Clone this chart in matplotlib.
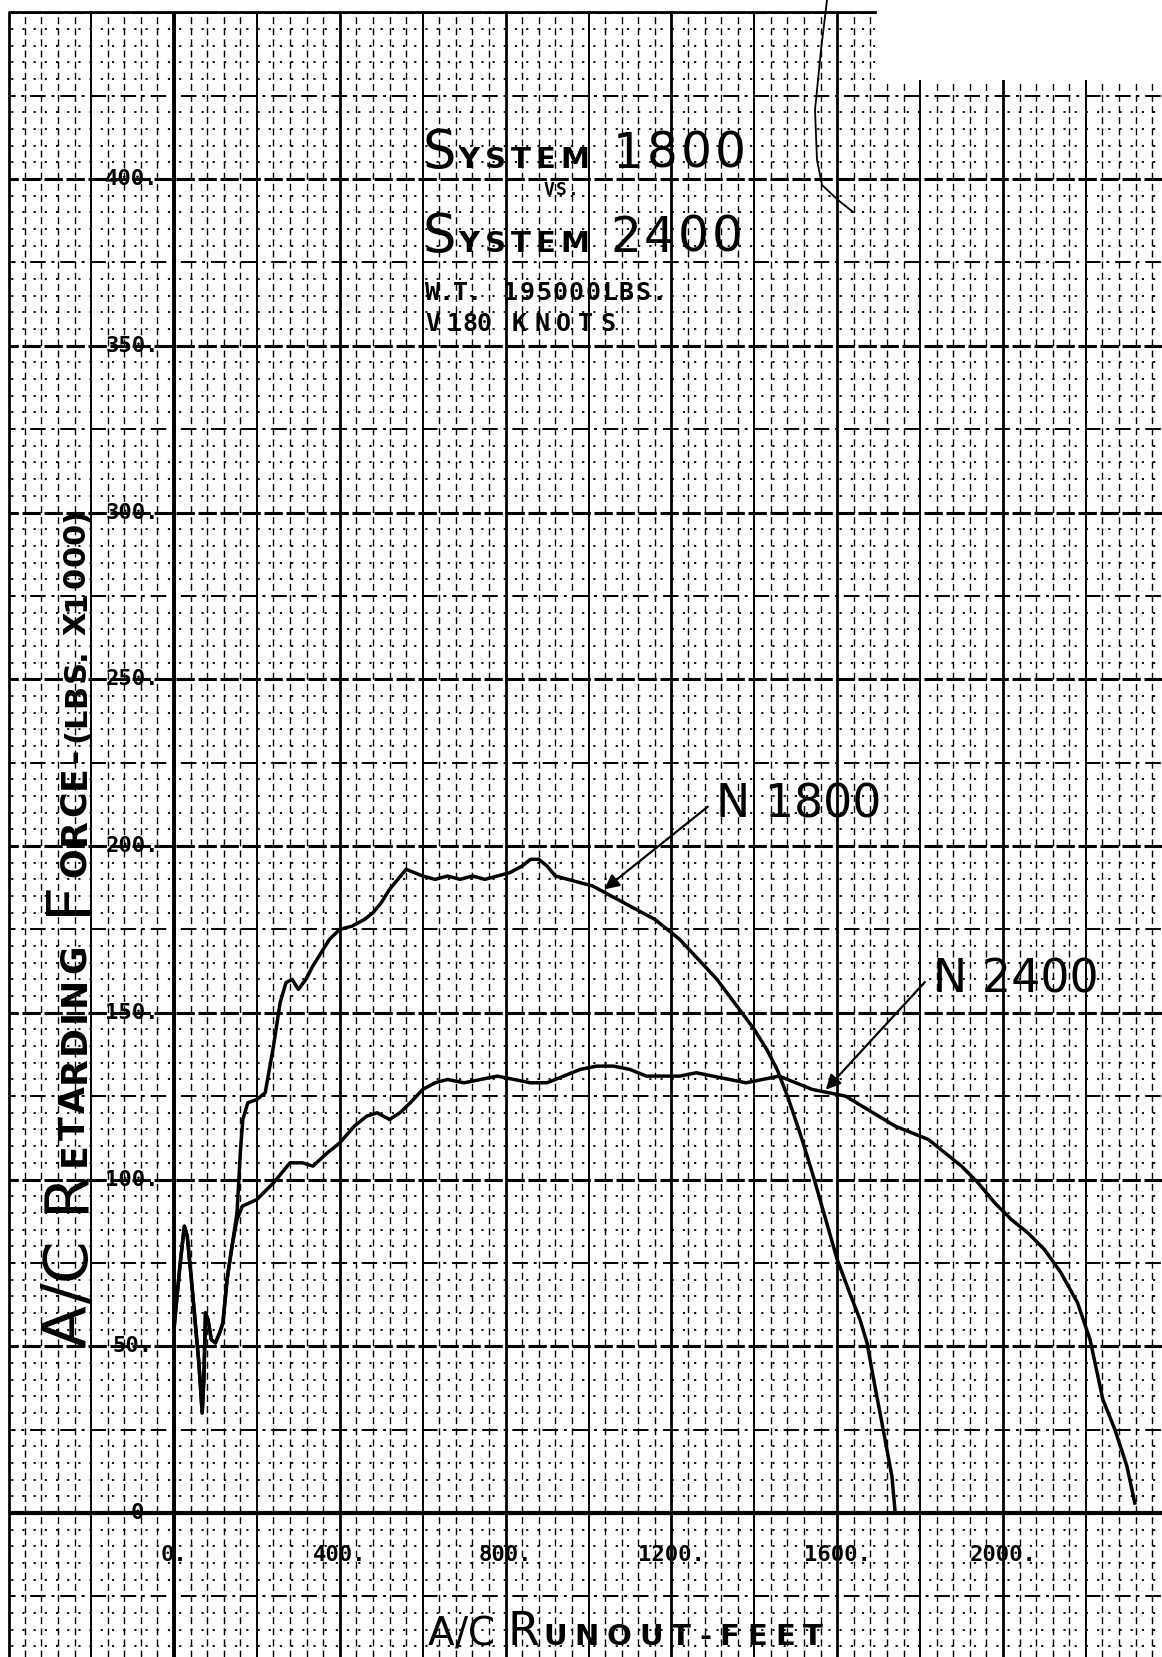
#!/usr/bin/env python3
"""
Arresting gear comparison - System 1800 vs System 2400.

Retarding force against aircraft runout, drawn like the old
hand-lettered graph paper sheet.
"""

import numpy as np
import matplotlib.pyplot as plt
from matplotlib.transforms import IdentityTransform
from matplotlib.patches import Rectangle
from matplotlib.lines import Line2D

# --- data (runout in ft, force in lbs x 1000) ---
runout_1800 = [0, 5, 15, 25, 32, 42, 52, 60, 68, 72, 76, 82, 90, 100, 110, 118,
               128, 140, 152, 160, 166, 178, 200, 220, 240, 256, 270, 285, 300,
               318, 335, 355, 375, 400, 430, 460, 480, 500, 520, 540, 560, 580,
               600, 630, 660, 690, 720, 750, 780, 810, 840, 860, 880, 900, 920,
               950, 980, 1010, 1040, 1070, 1100, 1130, 1160, 1190, 1220, 1250,
               1280, 1310, 1340, 1370, 1400, 1430, 1455, 1480, 1510, 1540, 1570,
               1600, 1630, 1655, 1672, 1691, 1711, 1732, 1740]
force_1800 = [55, 62, 75, 86, 83, 70, 56, 45, 30, 40, 60, 58, 52, 51, 54, 57,
              70, 80, 90, 108, 118, 123, 124, 126, 140, 153, 159, 160, 157,
              160, 164, 168, 172, 175, 176, 178, 180, 183, 187, 190, 193, 192,
              191, 190, 191, 190, 191, 190, 191, 192, 194, 196, 196, 194, 191,
              190, 189, 188, 186, 184, 182, 180, 178, 175, 172, 168,
              164, 160, 155, 150, 145, 139, 133, 125, 114, 102, 89,
              76, 66, 58, 51, 38, 25, 11, 0]

runout_2400 = [0, 5, 15, 25, 32, 42, 52, 60, 68, 72, 76, 82, 90, 100, 110, 118,
               128, 140, 152, 165, 200, 240, 280, 310, 335, 370, 400, 435, 465,
               490, 520, 545, 570, 600, 630, 660, 700, 740, 780, 820, 860, 900,
               940, 980, 1020, 1060, 1100, 1140, 1180, 1220, 1260, 1300, 1340,
               1380, 1420, 1460, 1500, 1540, 1580, 1620, 1660, 1700, 1740, 1780,
               1820, 1860, 1900, 1940, 1980, 2020, 2060, 2100, 2140, 2180, 2210,
               2241, 2270, 2299, 2318]
force_2400 = [55, 62, 75, 86, 83, 70, 56, 45, 30, 40, 60, 58, 52, 51, 54, 57,
              70, 80, 88, 92, 94, 99, 105, 105, 104, 108, 111, 116, 119,
              120, 118, 120, 123, 127, 129, 130, 129, 130, 131, 130, 129, 129,
              131, 133, 134, 134, 133, 131, 131, 131, 132, 131, 130,
              129, 130, 131, 129, 127, 126, 125, 122, 119, 116, 114,
              112, 108, 104, 99, 93, 88, 84, 79, 72, 63, 52,
              34, 25, 14, 3]

x_ticks = [0, 400, 800, 1200, 1600, 2000]
y_ticks = [0, 50, 100, 150, 200, 250, 300, 350, 400]

# --- sheet geometry (pixels) ---
W, H = 1162, 1657
X0, SX = 174, 0.4145     # pixel of 0 ft, pixels per ft
Y0, SY = 1513, 3.335     # pixel of 0 lbs, pixels per 1000 lbs

fig = plt.figure(figsize=(W / 100, H / 100), dpi=100)
ax = fig.add_axes([0, 0, 1, 1])
ax.set_xlim(-X0 / SX, (W - X0) / SX)
ax.set_ylim((Y0 - H) / SY, Y0 / SY)
ax.axis('off')
renderer = fig.canvas.get_renderer()

MONO = 'DejaVu Sans Mono'


def letter(px, py, pieces, rot=0, family='DejaVu Sans'):
    """Hand lettering: place chars one by one (px, py from top-left).

    pieces: (text, size, track, weight)
    """
    x, y = px, H - py
    for text, size, track, weight in pieces:
        for ch in text:
            if ch == ' ':
                adv = size * 0.35 * 100 / 72
            else:
                t = ax.text(x, y, ch, transform=IdentityTransform(),
                            fontsize=size, family=family, weight=weight,
                            rotation=rot, rotation_mode='anchor',
                            ha='left', va='baseline', zorder=6)
                bb = t.get_window_extent(renderer)
                adv = bb.width if rot == 0 else bb.height
            adv += track
            if rot == 0:
                x += adv
            else:
                y += adv


# --- graph paper ---
for v in np.arange(-400, 2400, 40):
    if v % 400 == 0:
        ax.axvline(v, color='k', lw=2.0, zorder=1)
    elif v % 200 == 0:
        ax.axvline(v, color='k', lw=1.4, zorder=1)
    else:
        ax.axvline(v, color='k', lw=1.0, ls=(0, (5, 3)), zorder=1)

for v in np.arange(-40, 455, 5):
    if v % 50 == 0:
        ax.axhline(v, color='k', lw=2.2, ls=(0, (6, 1.2)), zorder=1)
    elif v % 25 == 0:
        ax.axhline(v, color='k', lw=1.4, ls=(0, (8, 3, 1.5, 3)), zorder=1)
    else:
        ax.axhline(v, color='k', lw=1.3, ls=(0, (1.2, 5)), zorder=1)

ax.axvline(0, color='k', lw=2.8, zorder=2)
ax.axhline(0, color='k', lw=3.0, zorder=2)

# torn edges of the sheet
for r in [(0, 0, 9, H), (0, H - 12, W, 12), (875, H - 80, W - 875, 80)]:
    ax.add_patch(Rectangle(r[:2], r[2], r[3], transform=IdentityTransform(),
                           facecolor='white', edgecolor='none', zorder=3))
ax.add_line(Line2D([9, 9, 875], [0, H - 12, H - 12], transform=IdentityTransform(),
                   color='k', lw=2.0, zorder=4))

# stray pen stroke at the top
stroke_x = [827, 821, 815, 817, 822, 838, 853]
stroke_y = [0, 50, 110, 160, 185, 200, 212]
ax.add_line(Line2D(stroke_x, [H - s for s in stroke_y], transform=IdentityTransform(),
                   color='k', lw=1.3, zorder=4))

# --- curves ---
ax.plot(runout_1800, force_1800, color='k', lw=2.5, zorder=5)
ax.plot(runout_2400, force_2400, color='k', lw=2.5, zorder=5)

# --- tick labels ---
for v in y_ticks:
    ax.text(-89 if v == 0 else -101, v, f'{v}' if v == 0 else f'{v}.',
            ha='center', va='center', fontsize=16, family=MONO,
            weight='bold', zorder=6)
for v in x_ticks:
    ax.text(v, -12.6, f'{v}.', ha='center', va='center', fontsize=16,
            family=MONO, weight='bold', zorder=6)

# --- titles ---
letter(423, 168, [('S', 38, 2, 'normal'), ('YSTEM', 21, 5, 'bold')])
letter(613, 168, [('1800', 35, 3, 'normal')])
letter(544, 195, [('VS.', 13, 1, 'bold')], family=MONO)
letter(423, 252, [('S', 38, 2, 'normal'), ('YSTEM', 21, 5, 'bold')])
letter(610, 252, [('2400', 35, 3, 'normal')])
letter(425, 300, [('W.T.', 18, -1, 'bold')], family=MONO)
letter(503, 300, [('195000LBS.', 18, 1.5, 'bold')], family=MONO)
letter(425, 331, [('V', 18, 0, 'bold')], family=MONO)
letter(447, 331, [('180', 18, 0, 'bold')], family=MONO)
letter(512, 331, [('KNOTS', 18, 7, 'bold')], family=MONO)

# axis titles
letter(85, 1347, [('A/C', 44, 2, 'normal')], rot=90)
letter(85, 1212, [('R', 44, 3, 'normal'), ('ETARDING', 25, 3, 'bold')], rot=90)
letter(85, 915, [('F', 44, 3, 'normal'), ('ORCE-', 25, 2, 'bold')], rot=90)
letter(85, 742, [('(LBS. X1000)', 22, 1, 'bold')], rot=90)

letter(428, 1645, [('A/C', 28, 0, 'normal')])
letter(508, 1645, [('R', 33, 3, 'normal'), ('UNOUT-FEET', 21, 8, 'bold')])

# --- curve call-outs ---
for label, xt, yt, xa, runout, force in [
        ('N 1800', 1308, 212.3, 1033, runout_1800, force_1800),
        ('N 2400', 1831, 159.8, 1568, runout_2400, force_2400)]:
    ax.annotate('', xy=(xa, np.interp(xa, runout, force)), xytext=(xt - 15, yt),
                arrowprops=dict(arrowstyle='-|>', color='k', lw=1.6,
                                mutation_scale=22), zorder=6)
    ax.text(xt, yt, label, ha='left', va='center', fontsize=33, zorder=6)

plt.savefig('out.png', dpi=100)
